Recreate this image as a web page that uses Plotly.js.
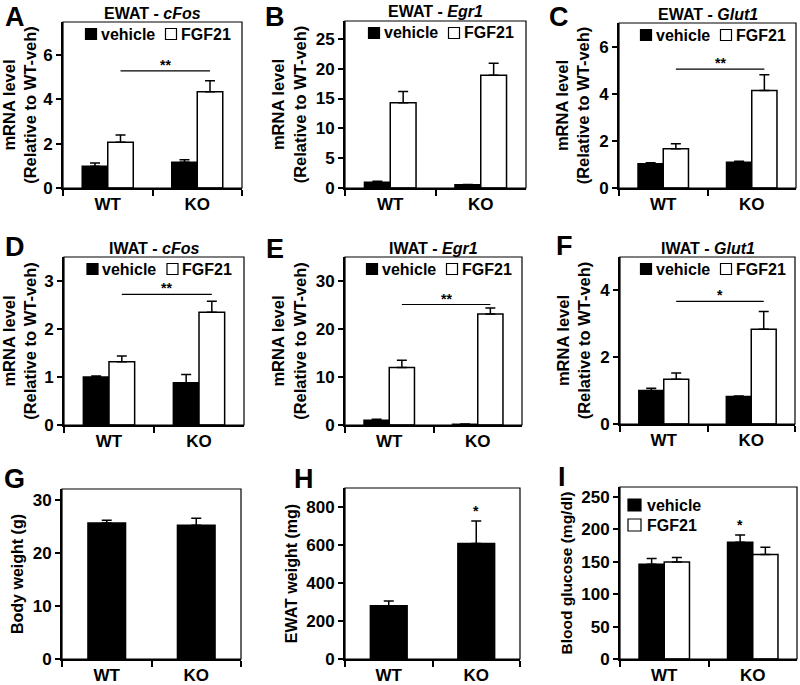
<!DOCTYPE html>
<html><head><meta charset="utf-8">
<script src="https://cdn.plot.ly/plotly-3.0.1.min.js"></script>
<style>html,body{margin:0;padding:0;background:#fff}#chart{width:800px;height:685px}</style>
</head><body><div id="chart"></div>
<script>
// ================= DATA =================
const categories = ['WT', 'KO'];
const seriesNames = ['vehicle', 'FGF21'];

// A  EWAT - cFos
const ewatCfosVehicle = [0.98, 1.16];
const ewatCfosVehicleErr = [0.15, 0.12];
const ewatCfosFgf21 = [2.07, 4.35];
const ewatCfosFgf21Err = [0.33, 0.50];
// B  EWAT - Egr1
const ewatEgr1Vehicle = [0.95, 0.55];
const ewatEgr1VehicleErr = [0.2, 0.05];
const ewatEgr1Fgf21 = [14.3, 18.9];
const ewatEgr1Fgf21Err = [1.9, 2.0];
// C  EWAT - Glut1
const ewatGlut1Vehicle = [1.03, 1.09];
const ewatGlut1VehicleErr = [0.04, 0.05];
const ewatGlut1Fgf21 = [1.67, 4.14];
const ewatGlut1Fgf21Err = [0.21, 0.66];
// D  IWAT - cFos
const iwatCfosVehicle = [1.0, 0.88];
const iwatCfosVehicleErr = [0.02, 0.17];
const iwatCfosFgf21 = [1.32, 2.35];
const iwatCfosFgf21Err = [0.12, 0.23];
// E  IWAT - Egr1
const iwatEgr1Vehicle = [1.0, 0.15];
const iwatEgr1VehicleErr = [0.2, 0.05];
const iwatEgr1Fgf21 = [12.0, 23.1];
const iwatEgr1Fgf21Err = [1.5, 1.3];
// F  IWAT - Glut1
const iwatGlut1Vehicle = [1.0, 0.82];
const iwatGlut1VehicleErr = [0.07, 0.02];
const iwatGlut1Fgf21 = [1.34, 2.84];
const iwatGlut1Fgf21Err = [0.19, 0.53];
// G  Body weight (g)
const bodyWeight = [25.6, 25.2];
const bodyWeightErr = [0.5, 1.3];
// H  EWAT weight (mg)
const ewatWeight = [280, 608];
const ewatWeightErr = [25, 118];
// I  Blood glucose (mg/dl)
const glucoseVehicle = [146, 180];
const glucoseVehicleErr = [9, 11];
const glucoseFgf21 = [149.5, 161];
const glucoseFgf21Err = [7, 11];

// significance brackets (WT-FGF21 vs KO-FGF21): level and label
const sigA = [5.29, '**'];
const sigC = [5.04, '**'];
const sigD = [2.72, '**'];
const sigE = [25.1, '**'];
const sigF = [3.67, '*'];
// single stars above a bar: [category, series index, label]
const starH = ['KO', 0, '*'];
const starI = ['KO', 0, '*'];

// ================= LAYOUT HELPERS =================
const FONT = 'Liberation Sans, Arial, sans-serif';
const W = 800, H = 685;
const px = x => x / W;
const py = y => 1 - y / H;
const BW2 = 0.285;   // bar width (category units) for two-series panels
const BW1 = 0.42;    // bar width for single-series panels
const colors = ['#000000', '#ffffff'];

const mrnaTitle = 'mRNA level<br>(Relative to WT-veh)';
const panels = [
  {letter:'A', lx:3,   ly:0,   top:true, title:'EWAT - <i>cFos</i>', box:[63,242,22,188],  range:7.5, dtick:2,  ytitle:mrnaTitle, tsize:16.5,
   series:[[ewatCfosVehicle,ewatCfosVehicleErr],[ewatCfosFgf21,ewatCfosFgf21Err]], sig:sigA, legend:'h'},
  {letter:'B', lx:263, ly:0,   top:true, title:'EWAT - <i>Egr1</i>', box:[345,526,21,188], range:28,  dtick:5,  ytitle:mrnaTitle, tsize:16.5,
   series:[[ewatEgr1Vehicle,ewatEgr1VehicleErr],[ewatEgr1Fgf21,ewatEgr1Fgf21Err]], sig:null, legend:'h'},
  {letter:'C', lx:547, ly:0,   top:true, title:'EWAT - <i>Glut1</i>', box:[619,796,23,188], range:7,   dtick:2,  ytitle:mrnaTitle, tsize:16.5,
   series:[[ewatGlut1Vehicle,ewatGlut1VehicleErr],[ewatGlut1Fgf21,ewatGlut1Fgf21Err]], sig:sigC, legend:'h'},
  {letter:'D', lx:3,   ly:247, title:'IWAT - <i>cFos</i>', box:[64,244,257,425],  range:3.5, dtick:1,  ytitle:mrnaTitle, tsize:16.5,
   series:[[iwatCfosVehicle,iwatCfosVehicleErr],[iwatCfosFgf21,iwatCfosFgf21Err]], sig:sigD, legend:'h'},
  {letter:'E', lx:264, ly:249, title:'IWAT - <i>Egr1</i>', box:[345,522,257,425], range:35,  dtick:10, ytitle:mrnaTitle, tsize:16.5,
   series:[[iwatEgr1Vehicle,iwatEgr1VehicleErr],[iwatEgr1Fgf21,iwatEgr1Fgf21Err]], sig:sigE, legend:'h'},
  {letter:'F', lx:554, ly:246, title:'IWAT - <i>Glut1</i>', box:[620,795,257,424], range:5,   dtick:2,  ytitle:mrnaTitle, tsize:16.5,
   series:[[iwatGlut1Vehicle,iwatGlut1VehicleErr],[iwatGlut1Fgf21,iwatGlut1Fgf21Err]], sig:sigF, legend:'h'},
  {letter:'G', lx:2,   ly:479, title:null, box:[62,241,489,659],  range:32,  dtick:10, ytitle:'Body weight (g)', tsize:16,
   series:[[bodyWeight,bodyWeightErr]], sig:null, legend:null},
  {letter:'H', lx:292, ly:479, title:null, box:[345,520,488,659], range:900, dtick:200, ytitle:'EWAT weight (mg)', tsize:16,
   series:[[ewatWeight,ewatWeightErr]], sig:null, legend:null, star:starH},
  {letter:'I', lx:556, ly:477, title:null, box:[620,797,487,659], range:265, dtick:50, ytitle:'Blood glucose (mg/dl)', tsize:15.5,
   series:[[glucoseVehicle,glucoseVehicleErr],[glucoseFgf21,glucoseFgf21Err]], sig:null, legend:'v', star:starI}
];

const traces = [];
const shapes = [];
const annotations = [];
const layout = {
  width: W, height: H,
  margin: {l:0, r:0, t:0, b:0},
  paper_bgcolor: '#fff', plot_bgcolor: '#fff',
  barmode: 'overlay',
  showlegend: false,
  font: {family: FONT, color: '#000', size: 16}
};

const tickFont = {family: FONT, size: 17, weight: 'bold', color: '#000'};

panels.forEach((p, i) => {
  const s = i === 0 ? '' : String(i + 1);
  const [L, R, T, B] = p.box;
  layout['xaxis' + s] = {
    domain: [px(L), px(R)], anchor: 'y' + s, type: 'category',
    categoryorder: 'array', categoryarray: categories, range: [-0.5, 1.5],
    tickson: 'boundaries', ticks: 'outside', ticklen: 6, tickwidth: 2, tickcolor: '#000',
    showline: true, linewidth: 2, linecolor: '#000', showgrid: false, zeroline: false,
    tickfont: tickFont, fixedrange: true
  };
  layout['yaxis' + s] = {
    domain: [py(B), py(T)], anchor: 'x' + s, range: [0, p.range], tick0: 0, dtick: p.dtick,
    ticks: 'outside', ticklen: 5, tickwidth: 2, tickcolor: '#000',
    showline: true, linewidth: 2, linecolor: '#000', showgrid: false, zeroline: false,
    tickfont: tickFont, fixedrange: true,
    title: {text: p.ytitle, font: {family: FONT, size: p.tsize, weight: 'bold', color: '#000'}, standoff: 5}
  };
  // frame
  shapes.push({type:'rect', xref:'x' + s + ' domain', yref:'y' + s + ' domain', x0:0, x1:1, y0:0, y1:1,
    line:{color:'#000', width:1.2}, fillcolor:'rgba(0,0,0,0)'});

  const n = p.series.length;
  const bw = n === 2 ? BW2 : BW1;
  p.series.forEach(([vals, errs], k) => {
    traces.push({
      type: 'bar', name: seriesNames[k], x: categories, y: vals,
      xaxis: 'x' + s, yaxis: 'y' + s,
      width: bw, offset: n === 2 ? (k === 0 ? -bw : 0) : -bw / 2,
      marker: {color: colors[k], line: {color: '#000', width: 1.5}},
      error_y: {type: 'data', symmetric: false, array: errs, arrayminus: errs.map(() => 0),
                color: '#000', thickness: 1.5, width: 5},
      hoverinfo: 'x+y'
    });
  });

  // significance bracket between FGF21 bars
  if (p.sig) {
    const xa = 0 + bw / 2, xb = 1 + bw / 2;
    shapes.push({type:'line', xref:'x' + s, yref:'y' + s, x0:xa, x1:xb, y0:p.sig[0], y1:p.sig[0],
      line:{color:'#000', width:1.2}});
    annotations.push({xref:'x' + s, yref:'y' + s, x:(xa + xb) / 2, y:p.sig[0], yanchor:'bottom',
      text:'<b>' + p.sig[1] + '</b>', showarrow:false, font:{family:FONT, size:14, color:'#000'}, yshift:-4});
  }
  if (p.star) {
    const ci = categories.indexOf(p.star[0]);
    const [vals, errs] = p.series[p.star[1]];
    const xc = n === 2 ? ci + (p.star[1] === 0 ? -bw / 2 : bw / 2) : ci;
    annotations.push({xref:'x' + s, yref:'y' + s, x:xc, y:vals[ci] + errs[ci], yanchor:'bottom',
      text:'<b>' + p.star[2] + '</b>', showarrow:false, font:{family:FONT, size:14, color:'#000'}, yshift:0});
  }

  // panel letter
  annotations.push({xref:'paper', yref:'paper', x:px(p.lx), y:py(p.ly), xanchor:'left',
    yanchor: p.top ? 'top' : 'middle',
    text:'<b>' + p.letter + '</b>', showarrow:false, font:{family:FONT, size:27, color:'#000'}});
  // panel title
  if (p.title) {
    annotations.push({xref:'paper', yref:'paper', x:px((L + R) / 2), y:py(T - 9), xanchor:'center', yanchor:'middle',
      text:'<b>' + p.title + '</b>', showarrow:false, font:{family:FONT, size:16, color:'#000'}});
  }

  // legend (drawn with shapes + text)
  if (p.legend === 'h') {
    const cx = (L + R) / 2 + 3, yc = T + 12;
    const start = cx - 70;
    const items = [[start, 0], [start + 80, 1]];
    items.forEach(([x0, k]) => {
      shapes.push({type:'rect', xref:'paper', yref:'paper', x0:px(x0), x1:px(x0 + 11), y0:py(yc + 5.5), y1:py(yc - 5.5),
        fillcolor:colors[k], line:{color:'#000', width:1.2}});
      annotations.push({xref:'paper', yref:'paper', x:px(x0 + 13), y:py(yc), xanchor:'left', yanchor:'middle',
        text:'<b>' + seriesNames[k] + '</b>', showarrow:false, font:{family:FONT, size:16, color:'#000'}});
    });
  } else if (p.legend === 'v') {
    seriesNames.forEach((nm, k) => {
      const x0 = L + 8, yc = T + 18 + k * 20;
      shapes.push({type:'rect', xref:'paper', yref:'paper', x0:px(x0), x1:px(x0 + 13), y0:py(yc + 6), y1:py(yc - 6),
        fillcolor:colors[k], line:{color:'#000', width:1.2}});
      annotations.push({xref:'paper', yref:'paper', x:px(x0 + 17), y:py(yc), xanchor:'left', yanchor:'middle',
        text:'<b>' + nm + '</b>', showarrow:false, font:{family:FONT, size:16, color:'#000'}});
    });
  }
});

layout.shapes = shapes;
layout.annotations = annotations;

Plotly.newPlot('chart', traces, layout, {staticPlot: true, displayModeBar: false});
</script>
</body></html>
